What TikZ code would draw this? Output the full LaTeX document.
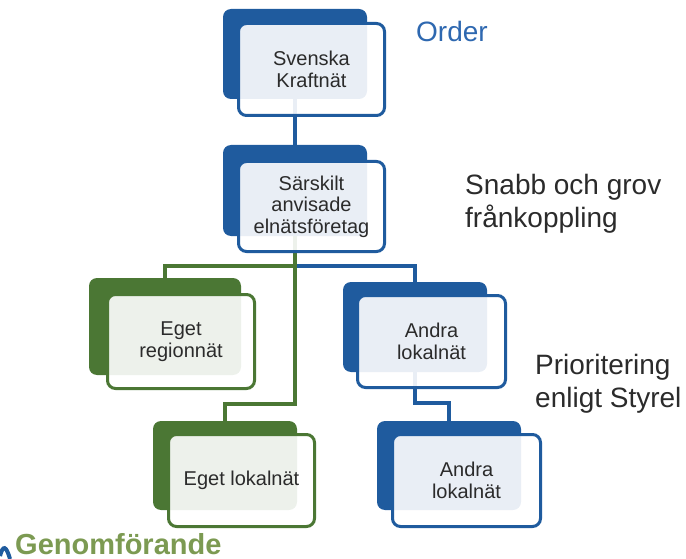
\documentclass[tikz,border=0pt]{standalone}
\usepackage{fontspec}
\setmainfont{Liberation Sans}
\usetikzlibrary{backgrounds}
\definecolor{bluec}{HTML}{1F5B9E}
\definecolor{greenc}{HTML}{4B7734}
\definecolor{ordc}{HTML}{2E68B0}
\definecolor{genc}{HTML}{7C9A52}
\definecolor{txtc}{HTML}{2B2B2B}
\tikzset{
  back/.style={fill=#1, rounded corners=8pt, inner sep=0pt, outer sep=0pt},
  front/.style={draw=#1, line width=3pt, fill=white, fill opacity=0.9, text opacity=1,
    rounded corners=8pt, inner sep=0pt, outer sep=0pt, align=center, text=txtc,
    font=\fontsize{20}{21.5}\selectfont},
  conn/.style={line width=4pt},
  side/.style={anchor=base west, inner sep=0pt, text=txtc, font=\fontsize{28}{32}\selectfont}
}
\begin{document}
\begin{tikzpicture}[x=1pt, y=-1pt]
\useasboundingbox (0,0) rectangle (686,559);
\coordinate (j) at (295,266);
\coordinate (g1) at (295,404);
\coordinate (b1) at (415,403);
% back rectangles
\node[back=bluec, minimum width=144pt, minimum height=90pt] (skb) at (295,54) {};
\node[back=bluec, minimum width=144pt, minimum height=91pt] (sab) at (295,190.5) {};
\node[back=greenc, minimum width=152pt, minimum height=97pt] (erb) at (165,326.5) {};
\node[back=bluec, minimum width=144pt, minimum height=90pt] (alb) at (415,327) {};
\node[back=greenc, minimum width=144pt, minimum height=89pt] (elb) at (225,465.5) {};
\node[back=bluec, minimum width=144pt, minimum height=89pt] (a2b) at (449,465.5) {};
% front rectangles with text
\node[front=bluec, minimum width=146pt, minimum height=92pt] (sk) at (311.5,69.5) {Svenska\\Kraftnät};
\node[front=bluec, minimum width=146pt, minimum height=90pt] (sa) at (311.5,206.5) {Särskilt\\anvisade\\elnätsföretag};
\node[front=greenc, minimum width=147pt, minimum height=94pt] (er) at (181,341.5) {Eget\\regionnät};
\node[front=bluec, minimum width=148pt, minimum height=92pt] (al) at (431.5,341.5) {Andra\\lokalnät};
\node[front=greenc, minimum width=146pt, minimum height=92pt] (el) at (241.5,480.5) {Eget lokalnät};
\node[front=bluec, minimum width=148pt, minimum height=92pt] (a2) at (466.5,480.5) {Andra\\lokalnät};
% connectors behind the boxes
\begin{scope}[on background layer]
  \draw[conn, bluec] (skb.south) -- (sab.north);
  \draw[conn, bluec] (j) -| (alb.north);
  \draw[conn, bluec] (alb.south) -- (b1) -| (a2b.north);
  \draw[conn, greenc] (j) -| (erb.north);
  \draw[conn, greenc] (sab.south) -- (g1) -| (elb.north);
\end{scope}
% side labels
\node[side, text=ordc] (order) at (416,42) {Order};
\node[side] (sn1) at (465,195) {Snabb och grov};
\node[side] (sn2) at (465,227) {frånkoppling};
\node[side] (pr1) at (535,374) {Prioritering};
\node[side] (pr2) at (535,407) {enligt Styrel};
\node[anchor=base west, inner sep=0pt, text depth=0pt, text=genc, font=\fontsize{29}{32}\bfseries] (gen) at (15,554) {Genomförande};
% partial logo swoosh at bottom-left
\draw[line width=4pt, bluec] (0,556) .. controls (3,545) and (6,545) .. (10,559);
\end{tikzpicture}
\end{document}
